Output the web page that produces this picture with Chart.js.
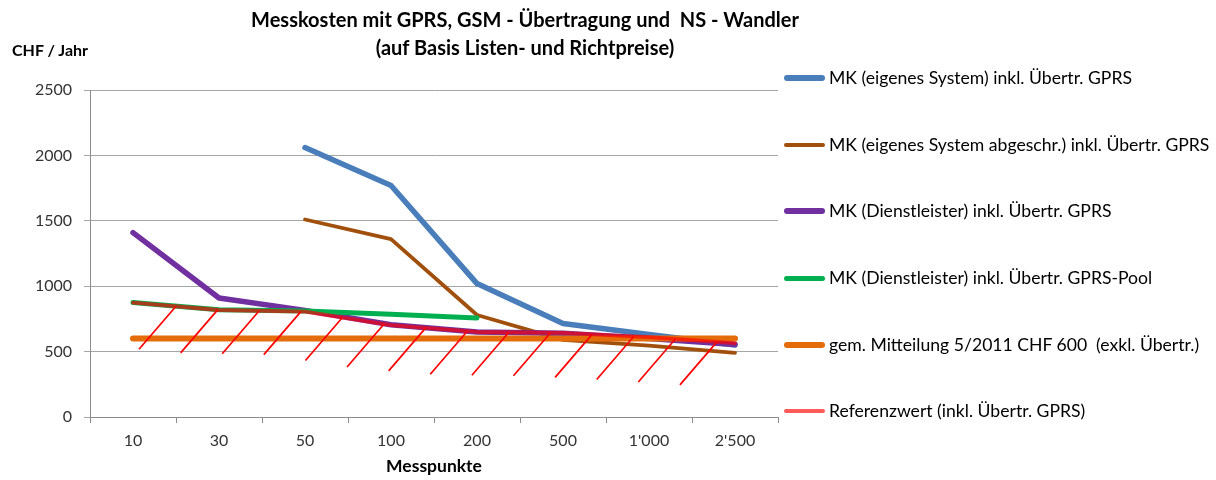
<!DOCTYPE html>
<html lang="de">
<head>
<meta charset="utf-8">
<title>Messkosten</title>
<script src="https://cdn.jsdelivr.net/npm/chart.js@4"></script>
<style>
	body { margin: 0; background: #fff; font-family: Lato, "Open Sans", sans-serif; color: #000; }
	#wrap { position: relative; width: 1216px; height: 480px; }
	#titulo { position: absolute; left: 175px; width: 700px; top: 5px; text-align: center; font-weight: bold; font-size: 20px; line-height: 28px; }
	#einheit { position: absolute; left: 12px; top: 40px; font-weight: bold; font-size: 16px; }
	#legende { position: absolute; left: 784px; top: 0; margin: 0; padding: 0; list-style: none; }
	#legende li { position: absolute; left: 0; height: 20px; white-space: pre; font-size: 17.6px; line-height: 20px; }
	#legende .muestra { position: absolute; left: 0; top: 8px; width: 41px; border-radius: 3px; }
	#legende span.txt { position: absolute; left: 45px; top: 0; }
</style>
</head>
<body>
<div id="wrap">
	<canvas id="grafico" width="1216" height="480"></canvas>
	<div id="titulo">Messkosten mit GPRS, GSM - Übertragung und&nbsp; NS - Wandler<br>(auf Basis Listen- und Richtpreise)</div>
	<div id="einheit">CHF / Jahr</div>
	<ul id="legende"></ul>
</div>
<script>
/* Datos */
const messpunkte = ["10", "30", "50", "100", "200", "500", "1'000", "2'500"];
const mkEigenes = [null, null, 2060, 1770, 1020, 715, 630, 550];
const mkEigenesAbgeschr = [null, null, 1510, 1360, 780, 590, 545, 490];
const mkDienstleister = [1410, 910, 815, 705, 650, 640, 600, 555];
const mkDienstleisterPool = [875, 820, 810, 785, 757, null, null, null];
const mitteilung = [600, 600, 600, 600, 600, 600, 600, 600];
const referenzwert = [875, 818, 805, 703, 650, 643, 610, 565];

const ejeY = { min: 0, max: 2500, paso: 500 };
const fuente = "Lato, 'Open Sans', sans-serif";

function serie(label, data, color, ancho, orden) {
	return {
		label: label,
		data: data,
		borderColor: color,
		backgroundColor: color,
		borderWidth: ancho,
		borderCapStyle: "round",
		borderJoinStyle: "round",
		pointRadius: 0,
		pointHoverRadius: 0,
		tension: 0,
		order: orden,
	};
}

const datasets = [
	serie("MK (eigenes System) inkl. Übertr. GPRS", mkEigenes, "#4a7ebb", 5.5, 6),
	serie("MK (eigenes System abgeschr.) inkl. Übertr. GPRS", mkEigenesAbgeschr, "#a0500c", 3.8, 5),
	serie("MK (Dienstleister) inkl. Übertr. GPRS", mkDienstleister, "#7030a0", 5.5, 4),
	serie("MK (Dienstleister) inkl. Übertr. GPRS-Pool", mkDienstleisterPool, "#00b050", 5, 3),
	serie("gem. Mitteilung 5/2011 CHF 600  (exkl. Übertr.)", mitteilung, "#e46c0a", 6, 2),
	serie("Referenzwert (inkl. Übertr. GPRS)", referenzwert, "rgba(255,0,0,0.65)", 3.8, 1),
];

/* Schraffur unter dem Referenzwert */
const schraffur = {
	id: "schraffur",
	afterDatasetsDraw(chart) {
		const meta = chart.getDatasetMeta(5);
		const pts = meta.data;
		const x = chart.scales.x;
		const cw = x.width / messpunkte.length;
		const inicio = pts[0].x + 0.5 * cw;
		const fin = pts[pts.length - 1].x - 0.21 * cw;
		const n = 14;
		const ctx = chart.ctx;
		ctx.save();
		ctx.strokeStyle = "#ff0000";
		ctx.lineWidth = 1.7;
		for (let i = 0; i < n; i++) {
			const px = inicio + (fin - inicio) * i / (n - 1);
			let py = pts[0].y;
			for (let k = 0; k < pts.length - 1; k++) {
				if (px >= pts[k].x && px <= pts[k + 1].x) {
					const t = (px - pts[k].x) / (pts[k + 1].x - pts[k].x);
					py = pts[k].y + t * (pts[k + 1].y - pts[k].y);
				}
			}
			ctx.beginPath();
			ctx.moveTo(px, py);
			ctx.lineTo(px - 37, py + 43);
			ctx.stroke();
		}
		ctx.restore();
	},
};

const config = {
	type: "line",
	data: { labels: messpunkte, datasets: datasets },
	options: {
		responsive: false,
		animation: false,
		layout: { padding: { top: 90, right: 438, bottom: 0, left: 0 } },
		plugins: { legend: { display: false }, title: { display: false }, tooltip: { enabled: false } },
		scales: {
			x: {
				offset: true,
				grid: { offset: true, drawOnChartArea: false, color: "#8c8c8c", tickLength: 6 },
				border: { color: "#8c8c8c" },
				ticks: { color: "#333", font: { family: fuente, size: 16 }, padding: 8, maxRotation: 0 },
				title: { display: true, text: "Messpunkte", color: "#000", font: { family: fuente, size: 17.5, weight: "bold" }, padding: { top: 0, bottom: 3 } },
				afterFit(scale) { scale.height = 63; },
			},
			y: {
				min: ejeY.min,
				max: ejeY.max,
				ticks: {
					stepSize: ejeY.paso,
					color: "#333",
					font: { family: fuente, size: 16 },
					padding: 12,
					callback: function (v) { return String(v); },
				},
				grid: { color: "#a6a6a6", tickLength: 6 },
				border: { color: "#8c8c8c" },
				afterFit(scale) { scale.width = 90; },
			},
		},
	},
	plugins: [schraffur],
};

const chart = new Chart(document.getElementById("grafico"), config);

/* Legende */
const legende = document.getElementById("legende");
const filas = [78, 145, 211, 278, 345, 411];
datasets.forEach(function (ds, i) {
	const li = document.createElement("li");
	li.style.top = (filas[i] - 10) + "px";
	const m = document.createElement("span");
	m.className = "muestra";
	m.style.background = ds.borderColor;
	m.style.height = Math.round(ds.borderWidth) + "px";
	m.style.top = (10 - Math.round(ds.borderWidth) / 2) + "px";
	const t = document.createElement("span");
	t.className = "txt";
	t.textContent = ds.label;
	li.appendChild(m);
	li.appendChild(t);
	legende.appendChild(li);
});
</script>
</body>
</html>
